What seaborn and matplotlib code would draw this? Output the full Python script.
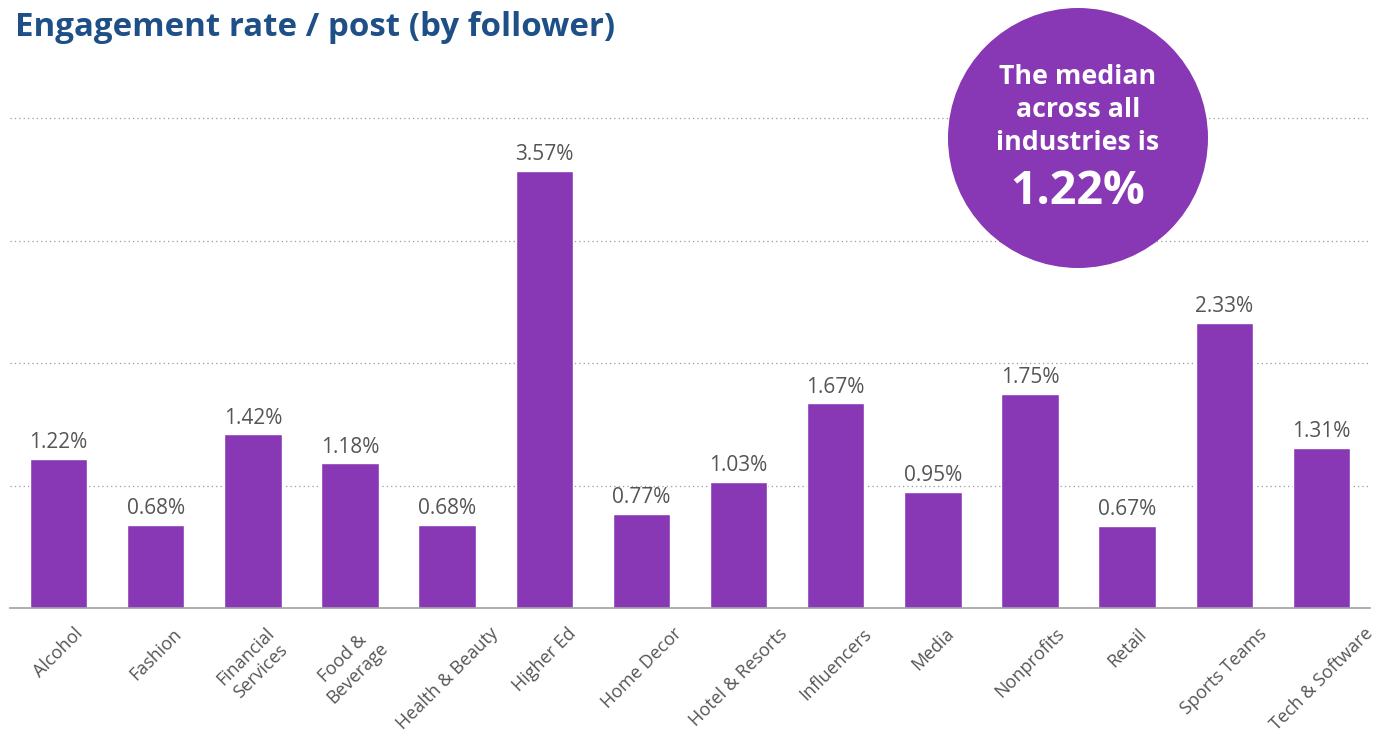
import matplotlib
matplotlib.use("Agg")
import matplotlib.pyplot as plt
from matplotlib.patches import Ellipse
import seaborn as sns
import pandas as pd

categories = ["Alcohol", "Fashion", "Financial\nServices", "Food &\nBeverage", "Health & Beauty",
              "Higher Ed", "Home Decor", "Hotel & Resorts", "Influencers", "Media",
              "Nonprofits", "Retail", "Sports Teams", "Tech & Software"]
values = [1.22, 0.68, 1.42, 1.18, 0.68, 3.57, 0.77, 1.03, 1.67, 0.95, 1.75, 0.67, 2.33, 1.31]
median_value = 1.22
title = "Engagement rate / post (by follower)"

BAR = "#8838B4"
GRAY = "#555555"
TITLE_C = "#1E4F86"

sns.set_theme(style="white")
plt.rcParams["font.family"] = ["Open Sans", "DejaVu Sans"]

W, H = 1379, 737
fig = plt.figure(figsize=(W / 100, H / 100), dpi=100)
ax = fig.add_axes([10 / W, 1 - 608 / H, 1360 / W, (608 - 112) / H])

df = pd.DataFrame({"cat": categories, "val": values})
sns.barplot(data=df, x="cat", y="val", color=BAR, saturation=1, width=0.59, ax=ax)

ax.set_ylim(0, 4.05)
ax.set_xlim(-0.5, len(categories) - 0.5)
for y in [1, 2, 3, 4]:
    ax.axhline(y, color="#9a9a9a", lw=0.9, ls=(0, (1, 2.5)), zorder=0)
for s in ["top", "right", "left"]:
    ax.spines[s].set_visible(False)
ax.spines["bottom"].set_color("#a0a0a0")
ax.spines["bottom"].set_linewidth(1.2)
ax.set_yticks([])
ax.set_xlabel("")
ax.set_ylabel("")
ax.tick_params(axis="x", length=0, pad=12)
ax.set_xticks(range(len(categories)))
ax.set_xticklabels(categories, rotation=45, ha="center", va="top",
                   fontsize=13, color=GRAY, multialignment="center")

for p, v in zip(ax.patches, values):
    ax.annotate(f"{v:.2f}%", (p.get_x() + p.get_width() / 2, p.get_height()),
                xytext=(0, 4), textcoords="offset points", ha="center", va="bottom",
                fontsize=15, color=GRAY)

fig.text(15 / W, 1 - 27 / H, title, fontsize=23.8, fontweight="bold", color=TITLE_C,
         ha="left", va="center")

cx, cy, r = 1078, 138, 130
fig.patches.append(Ellipse((cx / W, 1 - cy / H), 2 * r / W, 2 * r / H,
                           transform=fig.transFigure, facecolor=BAR, edgecolor="none",
                           zorder=5))
for txt, yy in [("The median", 77), ("across all", 110), ("industries is", 143)]:
    fig.text(cx / W, 1 - yy / H, txt, fontsize=19.3, fontweight="bold", color="white",
             ha="center", va="center", zorder=6)
fig.text(cx / W, 1 - 192 / H, f"{median_value:.2f}%", fontsize=33.5, fontweight="bold",
         color="white", ha="center", va="center", zorder=6)

fig.savefig("out.png", dpi=100, facecolor="white")
